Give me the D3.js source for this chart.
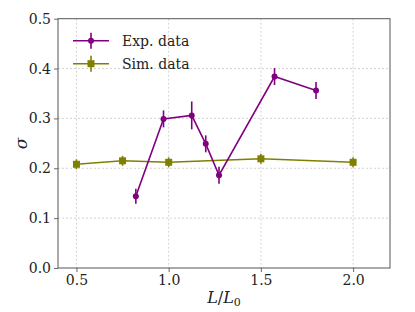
<!DOCTYPE html>
<html>
<head>
<meta charset="utf-8">
<script src="https://cdn.jsdelivr.net/npm/d3@7"></script>
<style>
  html, body { margin: 0; padding: 0; background: #fff; overflow: hidden; }
  svg text { font-family: "DejaVu Serif", serif; }
</style>
</head>
<body>
<div id="viz"></div>
<script>
// data
const expX = [0.822, 0.972, 1.125, 1.201, 1.273, 1.574, 1.799];
const expY = [0.144, 0.299, 0.306, 0.249, 0.186, 0.384, 0.356];
const expErr = [0.015, 0.017, 0.028, 0.017, 0.017, 0.017, 0.017];

const simX = [0.5, 0.75, 1.0, 1.5, 2.0];
const simY = [0.208, 0.215, 0.212, 0.219, 0.212];
const simErr = [0.01, 0.01, 0.01, 0.01, 0.01];

const xTicks = [0.5, 1.0, 1.5, 2.0];
const yTicks = [0.0, 0.1, 0.2, 0.3, 0.4, 0.5];

const width = 415, height = 312;
const margin = { top: 18.7, right: 25, bottom: 44, left: 58 };

const svg = d3.select('#viz').append('svg')
  .attr('width', width)
  .attr('height', height);

const innerWidth = width - margin.left - margin.right;
const innerHeight = height - margin.top - margin.bottom;

const chart = svg.append('g')
  .attr('transform', `translate(${margin.left},${margin.top})`);

const x = d3.scaleLinear().domain([0.4, 2.2]).range([0, innerWidth]);
const y = d3.scaleLinear().domain([0, 0.5]).range([innerHeight, 0]);

// grid
chart.append('g').selectAll('line.gx')
  .data(xTicks).enter().append('line')
  .attr('x1', d => x(d)).attr('x2', d => x(d))
  .attr('y1', 0).attr('y2', innerHeight)
  .attr('stroke', '#c8c8c8').attr('stroke-width', 0.8)
  .attr('stroke-dasharray', '2,2');
chart.append('g').selectAll('line.gy')
  .data(yTicks.slice(1, -1)).enter().append('line')
  .attr('x1', 0).attr('x2', innerWidth)
  .attr('y1', d => y(d)).attr('y2', d => y(d))
  .attr('stroke', '#c8c8c8').attr('stroke-width', 0.8)
  .attr('stroke-dasharray', '2,2');

// axes
const xAxis = chart.append('g')
  .attr('transform', `translate(0,${innerHeight})`)
  .call(d3.axisBottom(x).tickValues(xTicks).tickFormat(d3.format('.1f')).tickSize(4).tickPadding(3));
const yAxis = chart.append('g')
  .call(d3.axisLeft(y).tickValues(yTicks).tickFormat(d3.format('.1f')).tickSize(4).tickPadding(3));
[xAxis, yAxis].forEach(a => {
  a.attr('font-family', null).attr('font-size', null);
  a.select('.domain').remove();
  a.selectAll('line').attr('stroke', '#444').attr('stroke-width', 0.8);
  a.selectAll('text').attr('font-size', 14).attr('fill', '#222');
});

// frame
chart.append('rect')
  .attr('width', innerWidth).attr('height', innerHeight)
  .attr('fill', 'none').attr('stroke', '#555').attr('stroke-width', 1);

function drawSeries(xs, ys, errs, color, shape) {
  const pts = xs.map((v, i) => ({ x: v, y: ys[i], e: errs[i] }));
  const line = d3.line().x(d => x(d.x)).y(d => y(d.y));
  chart.append('path')
    .datum(pts)
    .attr('fill', 'none')
    .attr('stroke', color)
    .attr('stroke-width', 1.6)
    .attr('d', line);
  chart.selectAll(null).data(pts).enter().append('line')
    .attr('x1', d => x(d.x)).attr('x2', d => x(d.x))
    .attr('y1', d => y(d.y - d.e)).attr('y2', d => y(d.y + d.e))
    .attr('stroke', color).attr('stroke-width', 1.6);
  if (shape === 'circle') {
    chart.selectAll(null).data(pts).enter().append('circle')
      .attr('cx', d => x(d.x)).attr('cy', d => y(d.y))
      .attr('r', 3).attr('fill', color);
  } else {
    chart.selectAll(null).data(pts).enter().append('rect')
      .attr('x', d => x(d.x) - 3.5).attr('y', d => y(d.y) - 3.5)
      .attr('width', 7).attr('height', 7).attr('fill', color);
  }
}

drawSeries(simX, simY, simErr, '#808000', 'square');
drawSeries(expX, expY, expErr, '#800080', 'circle');

// legend
const legend = [
  { label: 'Exp. data', color: '#800080', shape: 'circle' },
  { label: 'Sim. data', color: '#808000', shape: 'square' }
];
legend.forEach((l, i) => {
  const g = svg.append('g').attr('transform', `translate(73,${40.7 + i * 23})`);
  g.append('line').attr('x1', 0).attr('x2', 36).attr('stroke', l.color).attr('stroke-width', 1.6);
  g.append('line').attr('x1', 18).attr('x2', 18).attr('y1', -8).attr('y2', 8)
    .attr('stroke', l.color).attr('stroke-width', 1.6);
  if (l.shape === 'circle') g.append('circle').attr('cx', 18).attr('r', 3).attr('fill', l.color);
  else g.append('rect').attr('x', 14.5).attr('y', -3.5).attr('width', 7).attr('height', 7).attr('fill', l.color);
  g.append('text').attr('x', 49).attr('y', 5).attr('font-size', 14).attr('fill', '#222').text(l.label);
});

// axis labels
const xl = svg.append('text')
  .attr('x', margin.left + innerWidth / 2).attr('y', 303)
  .attr('text-anchor', 'middle').attr('font-size', 16).attr('fill', '#222');
xl.append('tspan').attr('font-style', 'italic').text('L');
xl.append('tspan').text('/');
xl.append('tspan').attr('font-style', 'italic').text('L');
xl.append('tspan').attr('font-size', 11).attr('dy', 3).text('0');

svg.append('text')
  .attr('transform', `translate(27,${margin.top + innerHeight / 2}) rotate(-90)`)
  .attr('text-anchor', 'middle').attr('font-size', 17).attr('font-style', 'italic')
  .attr('fill', '#222').text('σ');
</script>
</body>
</html>
